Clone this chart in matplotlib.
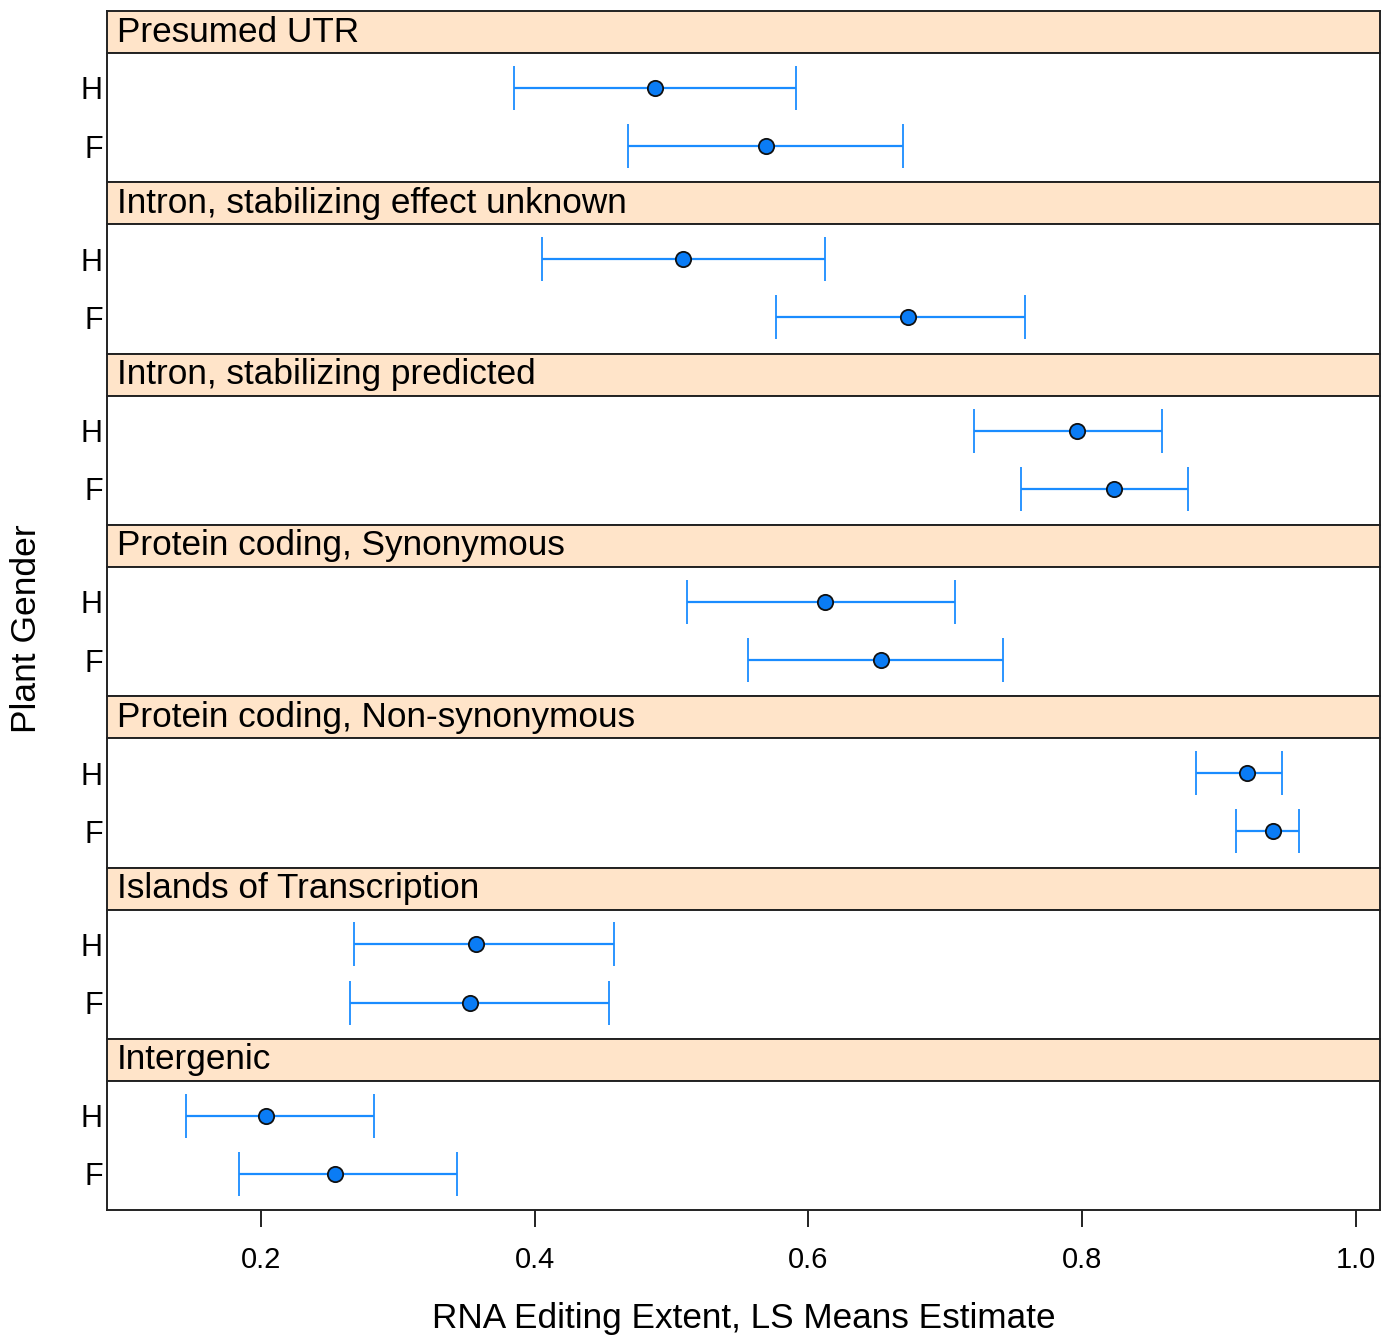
import numpy as np
import matplotlib.pyplot as plt

plt.rcParams['font.family'] = ['Liberation Sans', 'DejaVu Sans']

# panel order, top to bottom
regions = ['Presumed UTR', 'Intron, stabilizing effect unknown', 'Intron, stabilizing predicted',
           'Protein coding, Synonymous', 'Protein coding, Non-synonymous',
           'Islands of Transcription', 'Intergenic']
genders = ['H', 'F']

# LS means estimate and confidence limits, [H, F] per region
est = [[0.488, 0.569], [0.508, 0.673], [0.796, 0.823], [0.612, 0.653],
       [0.920, 0.939], [0.357, 0.353], [0.204, 0.254]]
lower = [[0.385, 0.468], [0.405, 0.576], [0.721, 0.755], [0.511, 0.556],
         [0.883, 0.912], [0.268, 0.265], [0.145, 0.184]]
upper = [[0.591, 0.669], [0.612, 0.758], [0.858, 0.877], [0.707, 0.742],
         [0.946, 0.958], [0.458, 0.454], [0.283, 0.343]]

xticks = [0.2, 0.4, 0.6, 0.8, 1.0]
xticklabels = ['0.2', '0.4', '0.6', '0.8', '1.0']

W, H = 1382, 1338
fig = plt.figure(figsize=(W / 100, H / 100), dpi=100)

left, right = 107, 1380
top = 11
unit = 171.3
strip_h = 42
blue = '#1a8cff'
edge = '#222222'

def box(x0, y0, w, h):
    return [x0 / W, 1 - (y0 + h) / H, w / W, h / H]

for i, reg in enumerate(regions):
    y0 = top + i * unit
    # strip
    sa = fig.add_axes(box(left, y0, right - left, strip_h))
    sa.set_facecolor('#ffe4c9')
    sa.set_xticks([])
    sa.set_yticks([])
    for s in sa.spines.values():
        s.set_linewidth(1.4)
        s.set_color(edge)
    sa.text(0.008, 0.5, reg, transform=sa.transAxes, ha='left', va='center', fontsize=25.3)

    # panel
    ax = fig.add_axes(box(left, y0 + strip_h, right - left, unit - strip_h))
    ypos = [2, 1]  # H on top, F below
    for j in range(2):
        ax.errorbar(est[i][j], ypos[j],
                    xerr=[[est[i][j] - lower[i][j]], [upper[i][j] - est[i][j]]],
                    fmt='o', color=blue, ecolor=blue, elinewidth=1.6, capsize=15.5,
                    capthick=1.6, markersize=11, markerfacecolor='#0a7cf5',
                    markeredgecolor='#111111', markeredgewidth=1.3)
    ax.set_xlim(0.0876, 1.0175)
    ax.set_ylim(0.38, 2.6)
    ax.set_yticks(ypos)
    ax.set_yticklabels(genders, fontsize=22)
    ax.tick_params(axis='y', length=0, pad=3)
    for s in ax.spines.values():
        s.set_linewidth(1.4)
        s.set_color(edge)
    if i == len(regions) - 1:
        ax.set_xticks(xticks)
        ax.set_xticklabels(xticklabels, fontsize=21)
        ax.tick_params(axis='x', direction='out', length=12, width=1.4, color=edge, pad=14)
        ax.set_xlabel('RNA Editing Extent, LS Means Estimate', fontsize=25.3, labelpad=20)
    else:
        ax.set_xticks([])

fig.text(27 / W, 1 - 629 / H, 'Plant Gender', rotation=90, ha='center', va='center', fontsize=25.5)

fig.savefig('out.png', dpi=100)
